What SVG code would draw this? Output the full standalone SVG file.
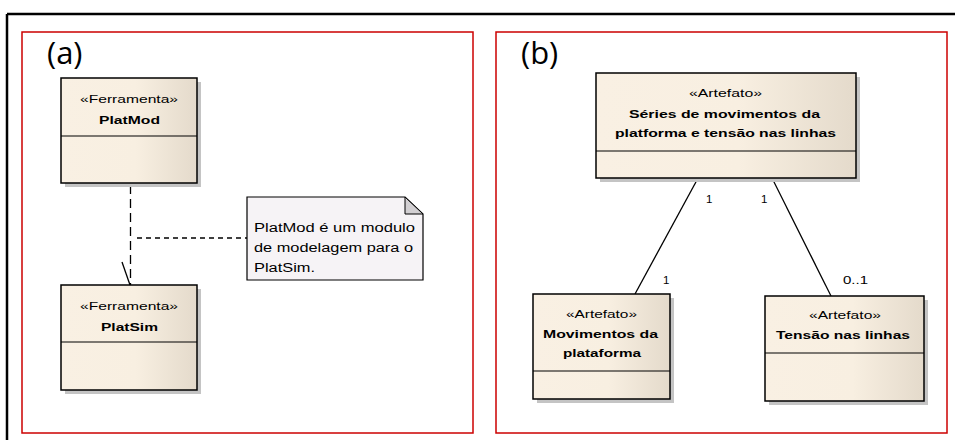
<svg xmlns="http://www.w3.org/2000/svg" width="955" height="440" viewBox="0 0 955 440">
<defs>
<linearGradient id="boxfill" x1="0" y1="0" x2="1" y2="0">
<stop offset="0" stop-color="#f9f0e3"/>
<stop offset="0.55" stop-color="#f8efe1"/>
<stop offset="1" stop-color="#e4dacb"/>
</linearGradient>
<style>
.frame{fill:none;stroke:#cc0000;stroke-width:1.5}
.box{fill:url(#boxfill);stroke:#000;stroke-width:1.5}
.shadow{fill:#c4c4c4}
.div{stroke:#000;stroke-width:1.2}
.st{font-family:"Liberation Sans",Arial,sans-serif;font-size:11.5px;fill:#000}
.nm{font-family:"Liberation Sans",Arial,sans-serif;font-size:11.5px;font-weight:bold;fill:#000}
.nt{font-family:"Liberation Sans",Arial,sans-serif;font-size:12px;fill:#000}
.lb{font-family:"Liberation Sans",Arial,sans-serif;font-size:11.5px;fill:#000}
.big{font-family:"Open Sans","Liberation Sans",sans-serif;font-size:31px;fill:#000}
.conn{stroke:#000;stroke-width:1.3;fill:none}
</style>
</defs>
<rect width="955" height="440" fill="#fff"/>
<line x1="7" y1="14" x2="955" y2="14" stroke="#000" stroke-width="2.5"/>
<line x1="7" y1="14" x2="7" y2="440" stroke="#000" stroke-width="2.5"/>
<rect class="frame" x="22" y="32" width="451" height="401"/>
<rect class="frame" x="496" y="32" width="451" height="401"/>
<text class="big" x="47" y="64">(a)</text>
<text class="big" x="521" y="64">(b)</text>

<g id="connectors">
<line class="conn" x1="130.5" y1="185" x2="130.5" y2="285" stroke-dasharray="9,5"/>
<line class="conn" x1="122" y1="262" x2="130" y2="285"/>
<line class="conn" x1="137" y1="238" x2="247" y2="238" stroke-dasharray="5,4"/>
<line class="conn" x1="697" y1="180" x2="635" y2="294"/>
<line class="conn" x1="773" y1="180" x2="831" y2="296"/>
<text class="lb" x="706" y="203">1</text>
<text class="lb" x="761" y="203">1</text>
<text class="lb" x="663" y="284">1</text>
<text class="lb" x="843" y="284" textLength="25" lengthAdjust="spacingAndGlyphs">0..1</text>
</g>

<g id="platmod">
<rect class="shadow" x="65" y="82" width="136" height="105"/>
<rect class="box" x="61" y="78" width="136" height="105"/>
<line class="div" x1="61" y1="136" x2="197" y2="136"/>
<text class="st" x="80" y="103" textLength="98" lengthAdjust="spacingAndGlyphs">«Ferramenta»</text>
<text class="nm" x="99" y="124" textLength="61" lengthAdjust="spacingAndGlyphs">PlatMod</text>
</g>

<g id="platsim">
<rect class="shadow" x="65" y="289" width="136" height="105"/>
<rect class="box" x="61" y="285" width="136" height="105"/>
<line class="div" x1="61" y1="342" x2="197" y2="342"/>
<text class="st" x="80" y="310" textLength="98" lengthAdjust="spacingAndGlyphs">«Ferramenta»</text>
<text class="nm" x="101" y="331" textLength="57" lengthAdjust="spacingAndGlyphs">PlatSim</text>
</g>

<g id="note">
<path d="M247,197 H405 L423,214 V280 H247 Z" fill="#f6f3f6" stroke="#000" stroke-width="1.2"/>
<path d="M405,197 V214 H423 Z" fill="#d2cfd2" stroke="#000" stroke-width="1"/>
<text class="nt" x="254" y="232" textLength="161" lengthAdjust="spacingAndGlyphs">PlatMod é um modulo</text>
<text class="nt" x="254" y="252" textLength="159" lengthAdjust="spacingAndGlyphs">de modelagem para o</text>
<text class="nt" x="254" y="272" textLength="61" lengthAdjust="spacingAndGlyphs">PlatSim.</text>
</g>

<g id="series">
<rect class="shadow" x="600" y="77" width="260" height="105"/>
<rect class="box" x="596" y="73" width="260" height="105"/>
<line class="div" x1="596" y1="151" x2="856" y2="151"/>
<text class="st" x="689" y="97" textLength="73" lengthAdjust="spacingAndGlyphs">«Artefato»</text>
<text class="nm" x="629" y="118" textLength="191" lengthAdjust="spacingAndGlyphs">Séries de movimentos da</text>
<text class="nm" x="615" y="137" textLength="221" lengthAdjust="spacingAndGlyphs">platforma e tensão nas linhas</text>
</g>

<g id="movimentos">
<rect class="shadow" x="537" y="298" width="137" height="105"/>
<rect class="box" x="533" y="294" width="137" height="105"/>
<line class="div" x1="533" y1="371" x2="670" y2="371"/>
<text class="st" x="566" y="318" textLength="71" lengthAdjust="spacingAndGlyphs">«Artefato»</text>
<text class="nm" x="543" y="338" textLength="115" lengthAdjust="spacingAndGlyphs">Movimentos da</text>
<text class="nm" x="563" y="357" textLength="78" lengthAdjust="spacingAndGlyphs">plataforma</text>
</g>

<g id="tensao">
<rect class="shadow" x="769" y="300" width="159" height="105"/>
<rect class="box" x="765" y="296" width="159" height="105"/>
<line class="div" x1="765" y1="353" x2="924" y2="353"/>
<text class="st" x="809" y="319" textLength="72" lengthAdjust="spacingAndGlyphs">«Artefato»</text>
<text class="nm" x="776" y="339" textLength="134" lengthAdjust="spacingAndGlyphs">Tensão nas linhas</text>
</g>
</svg>
